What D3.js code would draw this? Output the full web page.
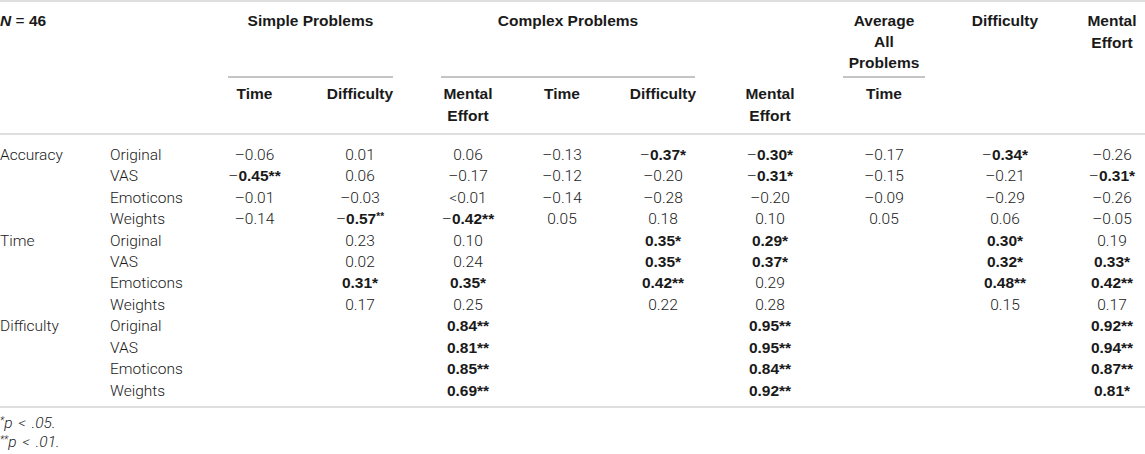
<!DOCTYPE html>
<html>
<head>
<meta charset="utf-8">
<script src="https://cdn.jsdelivr.net/npm/d3@7"></script>
<style>
  body { margin: 0; background: #fff; }
  svg { display: block; }
</style>
</head>
<body>
<svg id="table-svg" width="1145" height="454"></svg>
<script>
// table content
const measures = ['Accuracy', 'Time', 'Difficulty'];
const scaleNames = ['Original', 'VAS', 'Emoticons', 'Weights'];
const groupLabels = ['Simple Problems', 'Complex Problems', 'Average All Problems'];
const groupCols = [[0, 1], [2, 4], [6, 6]];
const subLabels = ['Time', 'Difficulty', 'Mental Effort', 'Time', 'Difficulty', 'Mental Effort', 'Time', '', ''];
const topLabels = ['', '', '', '', '', '', '', 'Difficulty', 'Mental Effort'];
const footnotes = [['*', 'p < .05.'], ['**', 'p < .01.']];

const accuracyValues = [
    ['-0.06', '0.01', '0.06', '-0.13', '-0.37*', '-0.30*', '-0.17', '-0.34*', '-0.26'],
    ['-0.45**', '0.06', '-0.17', '-0.12', '-0.20', '-0.31*', '-0.15', '-0.21', '-0.31*'],
    ['-0.01', '-0.03', '<0.01', '-0.14', '-0.28', '-0.20', '-0.09', '-0.29', '-0.26'],
    ['-0.14', '-0.57^**', '-0.42**', '0.05', '0.18', '0.10', '0.05', '0.06', '-0.05']
];
const timeValues = [
    ['', '0.23', '0.10', '', '0.35*', '0.29*', '', '0.30*', '0.19'],
    ['', '0.02', '0.24', '', '0.35*', '0.37*', '', '0.32*', '0.33*'],
    ['', '0.31*', '0.35*', '', '0.42**', '0.29', '', '0.48**', '0.42**'],
    ['', '0.17', '0.25', '', '0.22', '0.28', '', '0.15', '0.17']
];
const difficultyValues = [
    ['', '', '0.84**', '', '', '0.95**', '', '', '0.92**'],
    ['', '', '0.81**', '', '', '0.95**', '', '', '0.94**'],
    ['', '', '0.85**', '', '', '0.84**', '', '', '0.87**'],
    ['', '', '0.69**', '', '', '0.92**', '', '', '0.81*']
];

const width = 1145;
const height = 454;
const boldFont = "'Liberation Sans', Arial, sans-serif";
const lightFont = "Roboto, 'Liberation Sans', sans-serif";
const fontSize = 15.5;
const textColor = '#1a1a1a';
const ruleColor = '#d4d4d4';

const svg = d3.select('#table-svg')
    .attr('width', width)
    .attr('height', height);

const rows = [];
[accuracyValues, timeValues, difficultyValues].forEach((block, m) => {
    block.forEach((vals, s) => {
        rows.push({ measure: s === 0 ? measures[m] : '', scale: scaleNames[s], vals: vals });
    });
});

const x = d3.scaleOrdinal()
    .domain(d3.range(9))
    .range([254.5, 360, 468, 562, 663, 770, 884, 1005, 1112]);

const y = d3.scaleBand()
    .domain(d3.range(rows.length))
    .range([143.6, 401]);

const headerLine = 21;
const wrapped = new Set(['Mental Effort', 'Average All Problems']);
const lines = label => wrapped.has(label) ? label.split(' ') : [label];

// horizontal rules
const rules = [1, 134, 407];
svg.append('g')
    .selectAll('line')
    .data(rules)
    .join('line')
    .attr('x1', 0)
    .attr('x2', width)
    .attr('y1', d => d)
    .attr('y2', d => d)
    .attr('stroke', ruleColor)
    .attr('stroke-width', 1.6);

// N = 46
const nText = svg.append('text')
    .attr('x', 0)
    .attr('y', 20.7)
    .attr('dy', '0.35em')
    .attr('font-family', boldFont)
    .attr('font-size', fontSize)
    .attr('fill', textColor);
nText.append('tspan').attr('font-weight', 'bold').attr('font-style', 'italic').text('N');
nText.append('tspan').text(' = ');
nText.append('tspan').attr('font-weight', 'bold').text('46');

// group headers with underline
const spanPad = [[26.5, 33], [27, 32], [41, 41]];
const groups = svg.append('g')
    .selectAll('g')
    .data(groupLabels)
    .join('g');

groups.each(function (label, i) {
    const g = d3.select(this);
    const x0 = x(groupCols[i][0]) - spanPad[i][0];
    const x1 = x(groupCols[i][1]) + spanPad[i][1];
    g.append('line')
        .attr('x1', x0)
        .attr('x2', x1)
        .attr('y1', 77)
        .attr('y2', 77)
        .attr('stroke', '#8a8a8a')
        .attr('stroke-width', 1);
    g.selectAll('text')
        .data(lines(label))
        .join('text')
        .attr('x', (x0 + x1) / 2)
        .attr('y', (d, k) => 20.7 + k * headerLine)
        .attr('dy', '0.35em')
        .attr('text-anchor', 'middle')
        .attr('font-family', boldFont)
        .attr('font-weight', 'bold')
        .attr('font-size', fontSize)
        .attr('fill', textColor)
        .text(d => d);
});

// column headers (top-right and sub-headers)
const drawHeader = (labels, top) => {
    svg.append('g')
        .selectAll('g')
        .data(labels.map((label, i) => ({ label, i })).filter(d => d.label))
        .join('g')
        .selectAll('text')
        .data(d => lines(d.label).map(t => ({ t, i: d.i })))
        .join('text')
        .attr('x', d => x(d.i))
        .attr('y', (d, k) => top + k * 22)
        .attr('dy', '0.35em')
        .attr('text-anchor', 'middle')
        .attr('font-family', boldFont)
        .attr('font-weight', 'bold')
        .attr('font-size', fontSize)
        .attr('fill', textColor)
        .text(d => d.t);
};
drawHeader(topLabels, 20.7);
drawHeader(subLabels, 93.3);

// row labels
const body = svg.append('g');
const rowG = body.selectAll('g')
    .data(rows)
    .join('g')
    .attr('transform', (d, i) => `translate(0,${y(i) + y.bandwidth() / 2})`);

const lightText = sel => sel
    .attr('dy', '0.35em')
    .attr('font-family', lightFont)
    .attr('font-weight', 300)
    .attr('font-size', fontSize)
    .attr('fill', textColor);

rowG.append('text').attr('x', 0).call(lightText).text(d => d.measure);
rowG.append('text').attr('x', 110).call(lightText).text(d => d.scale);

// cells
rowG.selectAll('text.cell')
    .data(d => d.vals.map((v, c) => ({ v, c })).filter(d => d.v))
    .join('text')
    .attr('class', 'cell')
    .attr('x', d => x(d.c))
    .attr('text-anchor', 'middle')
    .call(lightText)
    .each(function (d) {
        const t = d3.select(this);
        const neg = d.v.startsWith('-');
        const raw = neg ? d.v.slice(1) : d.v;
        const sup = raw.includes('^');
        const num = raw.replace(/[*^]/g, '');
        const stars = raw.replace(/[^*]/g, '');
        if (neg) t.append('tspan').text('\u2013');
        if (!stars) {
            t.append('tspan').text(num);
            return;
        }
        t.append('tspan')
            .attr('font-family', boldFont)
            .attr('font-weight', 'bold')
            .text(num);
        const st = t.append('tspan')
            .attr('font-family', boldFont)
            .attr('font-weight', 'bold')
            .text(stars);
        if (sup) st.attr('font-size', 10).attr('baseline-shift', '45%');
    });

// footnotes
svg.append('g')
    .selectAll('text')
    .data(footnotes)
    .join('text')
    .attr('x', 0)
    .attr('y', (d, i) => 423 + i * 18.7)
    .attr('dy', '0.35em')
    .attr('font-family', lightFont)
    .attr('font-weight', 300)
    .attr('font-style', 'italic')
    .attr('font-size', 15.5)
    .attr('word-spacing', 2)
    .attr('fill', textColor)
    .each(function (d) {
        const t = d3.select(this);
        t.append('tspan').attr('font-size', 10).attr('baseline-shift', '40%').text(d[0]);
        t.append('tspan').text(d[1]);
    });
</script>
</body>
</html>
